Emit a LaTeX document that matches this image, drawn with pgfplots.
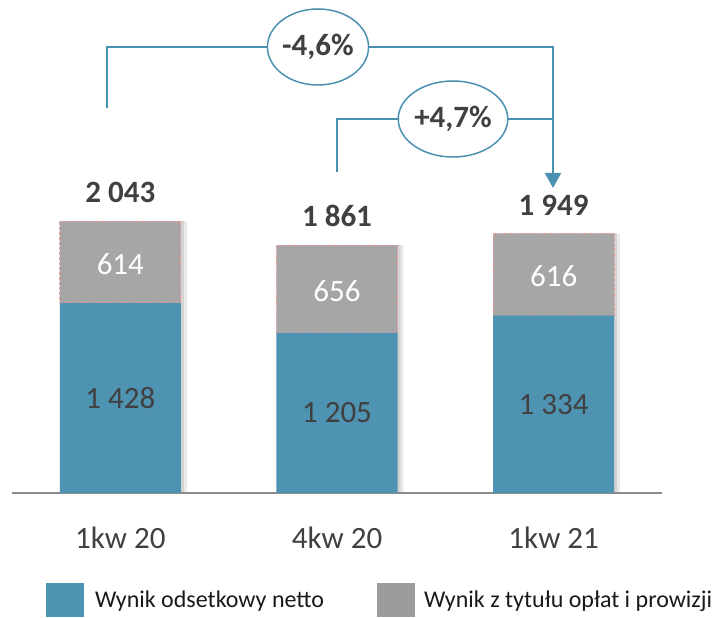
\documentclass[border=0pt]{standalone}
\usepackage{fontspec}
\setmainfont{Carlito}
\usepackage{pgfplots}
\usepackage{pgfplotstable}
\pgfplotsset{compat=1.18}
\usetikzlibrary{shapes.geometric, arrows.meta}
\definecolor{barblue}{HTML}{4F93B2}
\definecolor{bargray}{HTML}{A6A6A6}
\definecolor{leggray}{HTML}{9C9C9C}
\definecolor{linecol}{HTML}{4A90B1}
\definecolor{txt}{HTML}{404040}
\definecolor{pinkdash}{HTML}{F09A9A}

\pgfplotstableread{
x blue gray total
0 1428 614 2043
1 1205 656 1861
2 1334 616 1949
}\datatable

\pgfplotsset{myaxis/.style={
  at={(12pt,125pt)}, anchor=south west,
  scale only axis, width=650pt, height=493pt,
  xmin=-0.5, xmax=2.5, ymin=0, ymax=3703,
  clip=false,
}}
\newcommand{\bigf}{\fontsize{31}{31}\selectfont}

\begin{document}
\begin{tikzpicture}
\path[use as bounding box] (0pt,0pt) rectangle (716pt,618pt);
% soft shadow behind bars
\begin{axis}[myaxis, hide axis, ybar, bar width=121pt]
\addplot[fill=black, draw=none, opacity=0.08, bar shift=6pt] table[x=x,y=total]{\datatable};
\addplot[fill=black, draw=none, opacity=0.10, bar shift=3pt] table[x=x,y=total]{\datatable};
\end{axis}
\begin{axis}[myaxis, ybar stacked, bar width=121pt,
  axis x line=bottom, axis y line=none,
  x axis line style={-, draw=black!45, line width=1.5pt},
  xtick={0,1,2}, xticklabels={1kw 20,4kw 20,1kw 21},
  xtick style={draw=none}, ytick=\empty,
  xticklabel style={font=\bigf, text=txt, anchor=base, yshift=-53pt},
]
\addplot[fill=barblue, draw=none] table[x=x,y=blue]{\datatable};
\addplot[fill=bargray, draw=pinkdash, line width=0.9pt, dash pattern=on 3pt off 2pt] table[x=x,y=gray]{\datatable};
\end{axis}
% labels (separate axis so they sit above the stacked bars)
\begin{axis}[myaxis, hide axis]
\node[font=\bigf, text=txt] at (axis cs:0,714) {1 428};
\node[font=\bigf, text=txt] at (axis cs:1,602.5) {1 205};
\node[font=\bigf, text=txt] at (axis cs:2,667) {1 334};
\node[font=\bigf, text=white, yshift=-2pt] at (axis cs:0,1735) {614};
\node[font=\bigf, text=white, yshift=-2pt] at (axis cs:1,1533) {656};
\node[font=\bigf, text=white, yshift=-2pt] at (axis cs:2,1642) {616};
\node[font=\bfseries\bigf, text=txt, yshift=29pt] at (axis cs:0,2043) {2 043};
\node[font=\bfseries\bigf, text=txt, yshift=29pt] at (axis cs:1,1861) {1 861};
\node[font=\bfseries\bigf, text=txt, yshift=28pt] at (axis cs:2,1949) {1 949};
\end{axis}
% change annotations
\draw[linecol, line width=2pt, -{Triangle[width=16pt,length=15pt]}] (107pt,510pt) -- (107pt,571pt) -- (553pt,571pt) -- (553pt,430pt);
\draw[linecol, line width=2pt] (337pt,446pt) -- (337pt,499pt) -- (553pt,499pt);
\node[ellipse, draw=linecol, line width=1.5pt, fill=white, minimum width=99pt, minimum height=76pt, inner sep=0pt, font=\bfseries\bigf, text=txt] at (318pt,571pt) {-4,6\%};
\node[ellipse, draw=linecol, line width=1.5pt, fill=white, minimum width=99pt, minimum height=76pt, inner sep=0pt, font=\bfseries\bigf, text=txt] at (453pt,499pt) {+4,7\%};
% legend
\fill[barblue] (46pt,0.5pt) rectangle (84pt,35pt);
\node[anchor=base west, inner sep=0pt, font=\fontsize{24}{24}\selectfont, text=black!90] at (95pt,10pt) {Wynik odsetkowy netto};
\fill[leggray] (377pt,0.5pt) rectangle (415pt,35pt);
\node[anchor=base west, inner sep=0pt, font=\fontsize{24}{24}\selectfont, text=black!90] at (424pt,10pt) {Wynik z tytułu opłat i prowizji};
\end{tikzpicture}
\end{document}
